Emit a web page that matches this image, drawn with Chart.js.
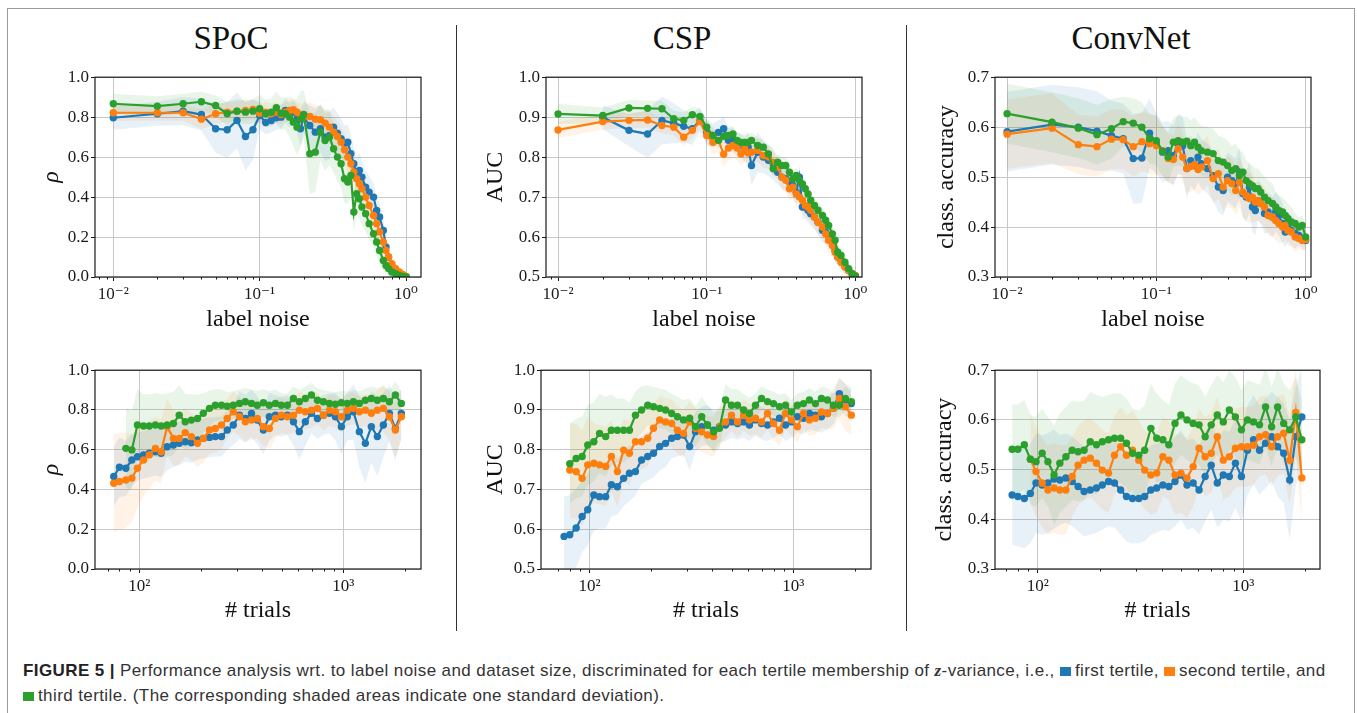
<!DOCTYPE html>
<html><head><meta charset="utf-8">
<script src="https://cdn.jsdelivr.net/npm/chart.js@4.4.1/dist/chart.umd.min.js"></script>
<style>
html,body{margin:0;padding:0;background:#fff;}
body{width:1357px;height:713px;position:relative;overflow:hidden;font-family:"Liberation Serif",serif;}
.frame{position:absolute;left:7px;top:8px;width:1348px;height:800px;border:1.5px solid #9a9a9a;box-sizing:border-box;}
.title{position:absolute;top:22px;font-size:33px;line-height:1;color:#111;transform:translateX(-50%);white-space:nowrap;}
.vline{position:absolute;width:1.4px;background:#333;top:25px;height:606px;}
.box{position:absolute;}
.caption{position:absolute;left:23px;font-family:"Liberation Sans",Arial,sans-serif;font-size:17px;letter-spacing:0.4px;line-height:1;color:#333;white-space:nowrap;}
.caption b{color:#222;}
.sq{display:inline-block;width:11px;height:9px;margin-right:4px;vertical-align:baseline;}
.z{font-family:"Liberation Serif",serif;font-weight:bold;font-style:italic;}
</style></head><body>
<div class="frame"></div>
<div class="title" style="left:231px">SPoC</div>
<div class="title" style="left:682px">CSP</div>
<div class="title" style="left:1131px">ConvNet</div>
<div class="vline" style="left:456px"></div>
<div class="vline" style="left:906px"></div>
<div id="pA" class="box"></div><div id="pB" class="box"></div><div id="pC" class="box"></div>
<div id="pD" class="box"></div><div id="pE" class="box"></div><div id="pF" class="box"></div>
<div class="caption" style="top:661.5px"><b>FIGURE 5 |</b> Performance analysis wrt. to label noise and dataset size, discriminated for each tertile membership of <span class="z">z</span>-variance, i.e., <span class="sq" style="background:#1f77b4"></span>first tertile, <span class="sq" style="background:#ff7f0e"></span>second tertile, and</div>
<div class="caption" style="top:687.3px"><span class="sq" style="background:#2ca02c"></span>third tertile. (The corresponding shaded areas indicate one standard deviation).</div>
<script>
// ---------- x values ----------
const noiseLevels = [0.01,0.02,0.03,0.04,0.05,0.06,0.07,0.08,0.09,0.10,0.11,0.12,0.13,0.14,0.15,0.16,0.17,0.18,0.19,0.20,0.22,0.24,0.26,0.28,0.30,0.32,0.34,0.36,0.38,0.40,0.42,0.44,0.46,0.48,0.50,0.53,0.56,0.60,0.63,0.66,0.70,0.73,0.76,0.80,0.85,0.90,0.95,1.00];
const trialCounts = [75,80,86,92,98,105,112,120,128,137,147,157,168,180,193,206,221,236,253,270,289,310,331,355,379,406,434,465,497,532,570,609,652,698,747,799,855,915,979,1047,1121,1199,1283,1373,1469,1572,1682,1800,1926];

// ---------- tick labels ----------
const noiseTickValues = [0.01, 0.1, 1];
const noiseTickLabels = ['10⁻²', '10⁻¹', '10⁰'];
const noiseMinorTicks = [0.008,0.009,0.02,0.03,0.04,0.05,0.06,0.07,0.08,0.09,0.2,0.3,0.4,0.5,0.6,0.7,0.8,0.9];
const trialTickValues = [100, 1000];
const trialTickLabels = ['10²', '10³'];
const trialMinorTicks = [70,80,90,200,300,400,500,600,700,800,900,2000];

// ---------- SPoC vs label noise (rho) ----------
const spocNoiseFirst  = [0.797,0.817,0.83,0.813,0.742,0.737,0.783,0.703,0.737,0.808, 0.773,0.783,0.797,0.80,0.833,0.808,0.825,0.79,0.742,0.80, 0.758,0.725,0.742,0.70,0.708,0.75,0.72,0.692,0.667,0.675,0.617,0.567,0.508,0.533,0.50, 0.45,0.425,0.40,0.333,0.30,0.233,0.15,0.10,0.058,0.033,0.017,0.008,0.003];
const spocNoiseSecond = [0.822,0.822,0.822,0.79,0.817,0.825,0.83,0.833,0.838,0.82, 0.825,0.817,0.825,0.813,0.825,0.833,0.837,0.825,0.808,0.80, 0.803,0.79,0.787,0.77,0.75,0.725,0.703,0.675,0.637,0.60,0.567,0.525,0.492,0.467,0.442, 0.40,0.358,0.308,0.267,0.225,0.175,0.133,0.10,0.067,0.042,0.025,0.013,0.003];
const spocNoiseThird  = [0.867,0.855,0.867,0.877,0.858,0.817,0.83,0.825,0.83,0.842, 0.817,0.825,0.847,0.82,0.817,0.80,0.775,0.75,0.79,0.813, 0.617,0.625,0.725,0.683,0.70,0.642,0.60,0.567,0.492,0.475,0.508,0.325,0.417,0.392,0.35, 0.317,0.267,0.217,0.175,0.133,0.083,0.058,0.042,0.025,0.017,0.008,0.003,0.0];
const spocNoiseFirstSd  = [0.06,0.06,0.07,0.08,0.12,0.14,0.14,0.17,0.15,0.07, 0.06,0.06,0.06,0.06,0.06,0.06,0.06,0.07,0.09,0.08, 0.10,0.12,0.12,0.12,0.12,0.10,0.10,0.10,0.09,0.09,0.09,0.09,0.09,0.09,0.08, 0.08,0.08,0.07,0.07,0.07,0.06,0.05,0.04,0.03,0.02,0.02,0.01,0.01];
const spocNoiseSecondSd = [0.04,0.04,0.04,0.05,0.05,0.05,0.05,0.05,0.05,0.05, 0.05,0.05,0.05,0.05,0.05,0.05,0.05,0.05,0.06,0.06, 0.07,0.07,0.07,0.07,0.08,0.08,0.08,0.08,0.08,0.08,0.08,0.08,0.08,0.08,0.07, 0.07,0.07,0.06,0.06,0.06,0.05,0.05,0.04,0.03,0.02,0.02,0.01,0.01];
const spocNoiseThirdSd  = [0.05,0.05,0.05,0.05,0.05,0.06,0.06,0.06,0.06,0.07, 0.07,0.07,0.08,0.08,0.08,0.10,0.12,0.14,0.14,0.12, 0.20,0.20,0.14,0.15,0.14,0.12,0.12,0.12,0.12,0.11,0.10,0.10,0.10,0.10,0.09, 0.09,0.08,0.07,0.07,0.06,0.05,0.04,0.04,0.03,0.02,0.02,0.01,0.01];

// ---------- CSP vs label noise (AUC) ----------
const cspNoiseFirst  = [null,0.90,0.867,0.858,0.892,0.885,0.877,0.871,0.892,0.862, 0.854,0.862,0.871,0.842,0.843,0.833,0.829,0.817,0.825,0.779, 0.812,0.80,0.792,0.783,0.762,0.75,0.746,0.737,0.729,0.712,0.75,0.675,0.675,0.667,0.658, 0.65,0.637,0.617,0.612,0.604,0.592,0.567,0.55,0.542,0.529,0.517,0.508,0.502];
const cspNoiseSecond = [0.868,0.889,0.892,0.893,0.879,0.875,0.85,0.867,0.889,0.854, 0.837,0.842,0.807,0.823,0.829,0.823,0.808,0.821,0.81,0.812, 0.817,0.804,0.80,0.787,0.775,0.75,0.742,0.721,0.725,0.708,0.70,0.692,0.679,0.675,0.667, 0.65,0.637,0.625,0.608,0.592,0.579,0.562,0.55,0.537,0.525,0.517,0.508,0.504];
const cspNoiseThird  = [0.908,0.904,0.923,0.922,0.921,0.896,0.892,0.906,0.902,0.875, 0.854,0.842,0.852,0.854,0.858,0.842,0.837,0.837,0.837,0.842, 0.829,0.825,0.808,0.771,0.787,0.779,0.779,0.762,0.746,0.754,0.742,0.733,0.721,0.708,0.692, 0.679,0.667,0.654,0.642,0.629,0.608,0.592,0.562,0.554,0.537,0.521,0.508,0.502];
const cspNoiseFirstSd  = [0.03,0.03,0.04,0.06,0.06,0.05,0.04,0.04,0.03,0.03, 0.03,0.03,0.03,0.03,0.03,0.03,0.03,0.03,0.04,0.05, 0.05,0.04,0.04,0.04,0.03,0.03,0.03,0.03,0.03,0.03,0.03,0.03,0.03,0.03,0.03, 0.03,0.03,0.03,0.03,0.03,0.03,0.03,0.02,0.02,0.02,0.02,0.01,0.01];
const cspNoiseSecondSd = [0.02,0.02,0.02,0.02,0.02,0.02,0.02,0.02,0.02,0.02, 0.03,0.03,0.03,0.03,0.03,0.03,0.03,0.03,0.03,0.03, 0.03,0.03,0.03,0.03,0.03,0.03,0.03,0.03,0.03,0.03,0.03,0.03,0.03,0.03,0.03, 0.03,0.03,0.03,0.03,0.03,0.03,0.02,0.02,0.02,0.02,0.02,0.01,0.01];
const cspNoiseThirdSd  = [0.025,0.02,0.02,0.02,0.02,0.02,0.02,0.02,0.02,0.02, 0.02,0.02,0.02,0.02,0.02,0.02,0.02,0.02,0.02,0.02, 0.02,0.02,0.02,0.02,0.02,0.02,0.02,0.02,0.02,0.02,0.02,0.02,0.02,0.02,0.02, 0.02,0.02,0.02,0.02,0.02,0.02,0.02,0.02,0.02,0.02,0.01,0.01,0.01];

// ---------- ConvNet vs label noise (class. accuracy) ----------
const convNoiseFirst  = [0.591,0.605,0.60,0.592,0.583,0.577,0.537,0.538,0.588,0.568, 0.55,0.553,0.543,0.567,0.563,0.517,0.533,0.523,0.54,0.527, 0.517,0.503,0.48,0.473,0.50,0.493,0.487,0.51,0.467,0.46,0.48,0.44,0.433,0.453,0.447, 0.427,0.43,0.42,0.43,0.423,0.407,0.39,0.40,0.393,0.387,0.383,0.377,0.373];
const convNoiseSecond = [0.586,0.598,0.565,0.561,0.576,0.575,0.561,0.571,0.567,0.563, 0.553,0.537,0.535,0.557,0.54,0.517,0.521,0.525,0.515,0.52, 0.533,0.497,0.507,0.48,0.493,0.487,0.473,0.49,0.47,0.463,0.457,0.46,0.45,0.453,0.447, 0.44,0.423,0.42,0.413,0.407,0.40,0.403,0.393,0.39,0.38,0.377,0.373,0.375];
const convNoiseThird  = [0.627,0.61,0.598,0.585,0.597,0.611,0.608,0.60,0.577,0.573, 0.552,0.54,0.57,0.573,0.57,0.572,0.563,0.57,0.56,0.553, 0.55,0.547,0.533,0.53,0.523,0.513,0.517,0.503,0.51,0.493,0.487,0.483,0.477,0.477,0.47, 0.46,0.453,0.447,0.44,0.433,0.43,0.423,0.417,0.41,0.407,0.40,0.403,0.38];
const convNoiseFirstSd  = [0.08,0.08,0.08,0.08,0.07,0.07,0.09,0.09,0.07,0.06, 0.06,0.06,0.06,0.06,0.06,0.06,0.05,0.05,0.05,0.05, 0.05,0.05,0.05,0.05,0.05,0.05,0.05,0.05,0.05,0.05,0.05,0.05,0.05,0.04,0.04, 0.04,0.04,0.04,0.04,0.04,0.04,0.03,0.03,0.03,0.03,0.02,0.02,0.02];
const convNoiseSecondSd = [0.07,0.07,0.06,0.06,0.06,0.06,0.06,0.06,0.06,0.06, 0.05,0.05,0.05,0.05,0.05,0.05,0.05,0.05,0.05,0.05, 0.05,0.05,0.05,0.05,0.05,0.05,0.05,0.05,0.05,0.05,0.05,0.05,0.04,0.04,0.04, 0.04,0.04,0.04,0.04,0.04,0.03,0.03,0.03,0.03,0.03,0.02,0.02,0.02];
const convNoiseThirdSd  = [0.06,0.06,0.06,0.06,0.06,0.05,0.05,0.05,0.05,0.05, 0.05,0.05,0.05,0.05,0.05,0.05,0.05,0.05,0.05,0.05, 0.05,0.05,0.05,0.05,0.05,0.05,0.05,0.05,0.04,0.04,0.04,0.04,0.04,0.04,0.04, 0.04,0.04,0.04,0.03,0.03,0.03,0.03,0.03,0.03,0.02,0.02,0.02,0.02];

// ---------- SPoC vs # trials (rho) ----------
const spocTrialsFirst  = [0.465,0.512,0.507,0.548,0.565, 0.574,0.582,0.59,0.582,0.615, 0.624,0.632,0.64,0.635,0.649, 0.657,0.662,0.666,0.666,0.699, 0.724,0.774,0.757,0.783,0.749, 0.699,0.766,0.774,0.766,0.774, 0.741,0.691,0.741,0.783,0.757, 0.774,0.783,0.766,0.716,0.766, 0.791,0.691,0.632,0.716,0.666, 0.724,0.783,0.707,0.783];
const spocTrialsSecond = [0.431,0.44,0.448,0.457,0.507, 0.548,0.574,0.607,0.59,0.716, 0.657,0.657,0.686,0.666,0.632, 0.657,0.699,0.707,0.724,0.757, 0.791,0.766,0.741,0.749,0.757, 0.716,0.707,0.757,0.774,0.766, 0.774,0.799,0.791,0.799,0.808, 0.774,0.799,0.791,0.766,0.799, 0.808,0.791,0.799,0.783,0.799, 0.808,0.766,0.699,0.766];
const spocTrialsThird  = [null,null,0.607,0.599,0.724, 0.719,0.719,0.724,0.719,0.724, 0.732,0.774,0.741,0.749,0.757, 0.783,0.808,0.824,0.824,0.819, 0.824,0.833,0.841,0.833,0.824, 0.836,0.824,0.833,0.824,0.824, 0.858,0.841,0.858,0.875,0.849, 0.841,0.833,0.829,0.836,0.833, 0.841,0.833,0.849,0.858,0.849, 0.858,0.841,0.875,0.833];
const spocTrialsFirstSd  = [0.15,0.15,0.14,0.13,0.12, 0.12,0.12,0.12,0.12,0.12, 0.11,0.11,0.10,0.10,0.10, 0.10,0.10,0.10,0.10,0.10, 0.10,0.12,0.12,0.12,0.12, 0.12,0.12,0.10,0.10,0.10, 0.12,0.14,0.12,0.10,0.10, 0.10,0.10,0.12,0.14,0.12, 0.14,0.18,0.20,0.18,0.20, 0.16,0.14,0.16,0.12];
const spocTrialsSecondSd = [0.25,0.24,0.24,0.22,0.20, 0.18,0.17,0.16,0.16,0.14, 0.14,0.13,0.12,0.12,0.12, 0.12,0.12,0.12,0.12,0.10, 0.10,0.10,0.10,0.10,0.10, 0.10,0.10,0.10,0.09,0.09, 0.09,0.09,0.09,0.09,0.08, 0.08,0.08,0.08,0.08,0.08, 0.08,0.08,0.08,0.09,0.10, 0.12,0.12,0.14,0.12];
const spocTrialsThirdSd  = [0.20,0.20,0.20,0.20,0.18, 0.16,0.16,0.16,0.16,0.16, 0.16,0.15,0.14,0.13,0.12, 0.10,0.09,0.08,0.08,0.07, 0.07,0.07,0.07,0.07,0.07, 0.07,0.07,0.07,0.06,0.06, 0.06,0.06,0.06,0.06,0.06, 0.06,0.06,0.06,0.06,0.06, 0.06,0.06,0.06,0.06,0.06, 0.06,0.06,0.07,0.06];

// ---------- CSP vs # trials (AUC) ----------
const cspTrialsFirst  = [0.582,0.586,0.603,0.632,0.649, 0.686,0.682,0.682,0.712,0.707, 0.728,0.741,0.745,0.774,0.783, 0.791,0.808,0.816,0.829,0.833, 0.837,0.808,0.845,0.858,0.862, 0.849,0.858,0.862,0.87,0.866, 0.87,0.862,0.875,0.866,0.862, 0.87,0.879,0.862,0.87,0.883, 0.879,0.891,0.887,0.883,0.891, 0.904,0.941,0.925,0.916];
const cspTrialsSecond = [null,0.749,0.745,0.728,0.762, 0.766,0.762,0.758,0.783,0.745, 0.799,0.791,0.82,0.82,0.829, 0.854,0.875,0.87,0.866,0.849, 0.841,0.87,0.854,0.845,0.837, 0.833,0.858,0.87,0.887,0.87, 0.887,0.875,0.879,0.87,0.891, 0.866,0.849,0.891,0.875,0.858, 0.891,0.875,0.879,0.895,0.891, 0.904,0.929,0.908,0.887];
const cspTrialsThird  = [null,0.765,0.778,0.783,0.812, 0.82,0.841,0.833,0.849,0.849, 0.849,0.849,0.887,0.90,0.912, 0.908,0.904,0.90,0.891,0.883, 0.875,0.879,0.858,0.883,0.862, 0.845,0.854,0.925,0.912,0.912, 0.90,0.891,0.912,0.929,0.921, 0.916,0.908,0.912,0.895,0.912, 0.916,0.925,0.916,0.929,0.925, 0.912,0.912,0.929,0.921];
const cspTrialsFirstSd  = [0.10,0.10,0.10,0.09,0.09, 0.09,0.08,0.08,0.08,0.07, 0.07,0.07,0.06,0.06,0.06, 0.06,0.06,0.06,0.05,0.05, 0.05,0.06,0.05,0.05,0.05, 0.05,0.04,0.04,0.04,0.04, 0.04,0.04,0.04,0.04,0.04, 0.04,0.04,0.04,0.04,0.04, 0.04,0.04,0.04,0.04,0.04, 0.04,0.04,0.04,0.04];
const cspTrialsSecondSd = [0.10,0.12,0.12,0.12,0.12, 0.10,0.10,0.10,0.09,0.09, 0.08,0.08,0.07,0.07,0.07, 0.06,0.06,0.06,0.06,0.06, 0.06,0.05,0.05,0.05,0.05, 0.05,0.05,0.04,0.04,0.04, 0.04,0.04,0.04,0.04,0.04, 0.04,0.04,0.04,0.04,0.04, 0.04,0.04,0.04,0.04,0.04, 0.05,0.05,0.06,0.05];
const cspTrialsThirdSd  = [0.10,0.10,0.10,0.10,0.10, 0.10,0.10,0.10,0.09,0.08, 0.08,0.07,0.06,0.06,0.05, 0.05,0.05,0.05,0.05,0.05, 0.05,0.05,0.05,0.05,0.05, 0.05,0.05,0.04,0.04,0.04, 0.04,0.04,0.03,0.03,0.03, 0.03,0.03,0.03,0.03,0.03, 0.03,0.03,0.03,0.03,0.03, 0.03,0.03,0.03,0.03];

// ---------- ConvNet vs # trials (class. accuracy) ----------
const convTrialsFirst  = [0.449,0.446,0.442,0.452,0.473, 0.469,0.473,0.481,0.479,0.483, 0.476,0.466,0.456,0.459,0.463, 0.469,0.476,0.473,0.459,0.446, 0.442,0.442,0.446,0.459,0.463, 0.469,0.466,0.476,0.489,0.469, 0.473,0.459,0.486,0.509,0.473, 0.489,0.486,0.513,0.486,0.539, 0.56,0.539,0.553,0.566,0.546, 0.533,0.479,0.566,0.606];
const convTrialsSecond = [null,null,null,0.521,0.496, 0.473,0.459,0.463,0.459,0.459, 0.486,0.509,0.519,0.523,0.513, 0.499,0.493,0.529,0.546,0.529, 0.539,0.519,0.499,0.489,0.493, 0.526,0.519,0.489,0.493,0.483, 0.506,0.543,0.526,0.533,0.566, 0.519,0.526,0.543,0.546,0.546, 0.549,0.566,0.57,0.546,0.566, 0.573,0.519,0.615,0.483];
const convTrialsThird  = [0.541,0.541,0.55,0.521,0.516, 0.533,0.516,0.489,0.513,0.526, 0.539,0.536,0.539,0.556,0.55, 0.556,0.56,0.563,0.563,0.553, 0.533,0.529,0.539,0.583,0.563, 0.56,0.55,0.593,0.61,0.60, 0.593,0.59,0.566,0.59,0.61, 0.596,0.62,0.606,0.58,0.60, 0.596,0.59,0.626,0.586,0.626, 0.593,0.58,0.606,0.56];
const convTrialsFirstSd  = [0.10,0.10,0.10,0.10,0.10, 0.10,0.10,0.10,0.09,0.09, 0.09,0.09,0.09,0.09,0.09, 0.09,0.09,0.09,0.09,0.09, 0.09,0.09,0.09,0.09,0.09, 0.09,0.09,0.09,0.09,0.09, 0.09,0.09,0.09,0.09,0.09, 0.09,0.09,0.09,0.09,0.09, 0.09,0.09,0.09,0.09,0.10, 0.10,0.12,0.10,0.10];
const convTrialsSecondSd = [0.09,0.09,0.09,0.09,0.09, 0.09,0.09,0.09,0.09,0.09, 0.08,0.08,0.08,0.08,0.08, 0.08,0.08,0.08,0.08,0.08, 0.08,0.08,0.08,0.08,0.08, 0.08,0.08,0.08,0.08,0.08, 0.08,0.08,0.08,0.08,0.08, 0.08,0.08,0.08,0.08,0.08, 0.08,0.08,0.08,0.08,0.08, 0.08,0.09,0.09,0.09];
const convTrialsThirdSd  = [0.09,0.09,0.09,0.09,0.09, 0.09,0.09,0.10,0.10,0.10, 0.10,0.10,0.10,0.10,0.10, 0.09,0.09,0.09,0.09,0.09, 0.09,0.09,0.09,0.09,0.09, 0.08,0.08,0.08,0.08,0.08, 0.08,0.08,0.08,0.08,0.08, 0.08,0.08,0.08,0.08,0.08, 0.08,0.08,0.08,0.08,0.08, 0.08,0.08,0.08,0.08];

// ---------- styling / layout ----------
const COLORS = ['#1f77b4', '#ff7f0e', '#2ca02c'];
const FILLS = ['rgba(31,119,180,0.10)', 'rgba(255,127,14,0.10)', 'rgba(44,160,44,0.10)'];
const GRID = '#c8c8c8';
const SERIF = '"Liberation Serif", "DejaVu Serif", serif';
const GUT_L = 70, PAD_T = 12, PAD_R = 14, GUT_B = 60;

const framePlugin = {
  id: 'frame',
  afterDatasetsDraw(chart) {
    const {ctx, chartArea: a} = chart;
    ctx.save();
    ctx.strokeStyle = '#1a1a1a';
    ctx.lineWidth = 1.2;
    ctx.strokeRect(a.left, a.top, a.right - a.left, a.bottom - a.top);
    ctx.restore();
  }
};
const minorTickPlugin = {
  id: 'minorTicks',
  afterDraw(chart, args, opts) {
    const sc = chart.scales.x, a = chart.chartArea, ctx = chart.ctx;
    ctx.save();
    ctx.strokeStyle = '#1a1a1a';
    ctx.lineWidth = 1;
    (opts.values || []).forEach(v => {
      if (v < sc.min || v > sc.max) return;
      const px = Math.round(sc.getPixelForValue(v)) + 0.5;
      ctx.beginPath(); ctx.moveTo(px, a.bottom); ctx.lineTo(px, a.bottom + 2.5); ctx.stroke();
    });
    ctx.restore();
  }
};

function buildDatasets(xs, means, sds) {
  const ds = [];
  means.forEach((m, s) => {
    ds.push({data: xs.map((x, i) => ({x, y: m[i] == null ? null : m[i] - sds[s][i]})),
             borderWidth: 0, pointRadius: 0, fill: false, order: 10});
    ds.push({data: xs.map((x, i) => ({x, y: m[i] == null ? null : m[i] + sds[s][i]})),
             borderWidth: 0, pointRadius: 0, fill: '-1', backgroundColor: FILLS[s], order: 10});
  });
  means.forEach((m, s) => {
    ds.push({data: xs.map((x, i) => ({x, y: m[i]})),
             borderColor: COLORS[s], backgroundColor: COLORS[s], pointBackgroundColor: COLORS[s],
             borderWidth: 2.2, pointRadius: 3.7, pointBorderWidth: 0, fill: false, order: 3 - s});
  });
  return ds;
}

function makeChart(id, g, xs, means, sds, yMin, yMax, yStep, yTitle, yItalic, yTitlePad, xTitle, xTitlePad, majors, majorLabels, minors) {
  const box = document.getElementById(id);
  const W = (g.R - g.L) + GUT_L + PAD_R, H = (g.B - g.T) + PAD_T + GUT_B;
  box.style.left = (g.L - GUT_L) + 'px';
  box.style.top = (g.T - PAD_T) + 'px';
  const cv = document.createElement('canvas');
  cv.width = W; cv.height = H; cv.style.width = W + 'px'; cv.style.height = H + 'px';
  box.appendChild(cv);
  new Chart(cv, {
    type: 'line',
    data: {datasets: buildDatasets(xs, means, sds)},
    plugins: [framePlugin, minorTickPlugin],
    options: {
      responsive: false, animation: false, events: [], devicePixelRatio: 1,
      layout: {padding: {left: 0, top: PAD_T, right: PAD_R, bottom: 0}},
      plugins: {legend: {display: false}, tooltip: {enabled: false},
                filler: {drawTime: 'beforeDatasetsDraw', propagate: false},
                minorTicks: {values: minors}},
      scales: {
        x: {
          type: 'logarithmic', min: g.xMin, max: g.xMax,
          afterFit: s => { s.height = GUT_B; },
          afterBuildTicks: s => { s.ticks = majors.map(v => ({value: v, major: true})); },
          ticks: {autoSkip: false, maxRotation: 0, minRotation: 0, padding: 3, color: '#1a1a1a',
                  font: {family: SERIF, size: 17},
                  callback: v => { const k = majors.findIndex(m => Math.abs(m - v) / m < 1e-6); return k >= 0 ? majorLabels[k] : ''; }},
          grid: {color: GRID, lineWidth: 1, drawTicks: true, tickLength: 4, tickColor: '#1a1a1a', tickWidth: 1},
          border: {display: false},
          title: {display: true, text: xTitle, color: '#111', font: {family: SERIF, size: 24}, padding: {top: 0, bottom: xTitlePad}}
        },
        y: {
          type: 'linear', min: yMin, max: yMax,
          afterFit: s => { s.width = GUT_L; },
          ticks: {stepSize: yStep, padding: 2, color: '#1a1a1a', font: {family: SERIF, size: 17},
                  callback: v => Number(v).toFixed(1)},
          grid: {color: GRID, lineWidth: 1, drawTicks: true, tickLength: 4, tickColor: '#1a1a1a', tickWidth: 1},
          border: {display: false},
          title: {display: true, text: yTitle, color: '#111',
                  font: {family: SERIF, size: 24, style: yItalic ? 'italic' : 'normal'},
                  padding: {top: yTitlePad, bottom: 0}}
        }
      }
    }
  });
}

const geo = {
  A: {L: 95,  T: 77,  R: 421,  B: 277, xMin: 0.0075, xMax: 1.266},
  B: {L: 546, T: 77,  R: 862,  B: 277, xMin: 0.0083, xMax: 1.107},
  C: {L: 995, T: 77,  R: 1311, B: 277, xMin: 0.0083, xMax: 1.086},
  D: {L: 95,  T: 370, R: 421,  B: 569, xMin: 60.7,   xMax: 2404},
  E: {L: 541, T: 370, R: 871,  B: 569, xMin: 57.8,   xMax: 2404},
  F: {L: 995, T: 370, R: 1320, B: 569, xMin: 61.9,   xMax: 2361}
};

makeChart('pA', geo.A, noiseLevels, [spocNoiseFirst, spocNoiseSecond, spocNoiseThird], [spocNoiseFirstSd, spocNoiseSecondSd, spocNoiseThirdSd], 0, 1, 0.2, 'ρ', true, 12.6, 'label noise', 3, noiseTickValues, noiseTickLabels, noiseMinorTicks);
makeChart('pB', geo.B, noiseLevels, [cspNoiseFirst, cspNoiseSecond, cspNoiseThird], [cspNoiseFirstSd, cspNoiseSecondSd, cspNoiseThirdSd], 0.5, 1, 0.1, 'AUC', false, 5.6, 'label noise', 3, noiseTickValues, noiseTickLabels, noiseMinorTicks);
makeChart('pC', geo.C, noiseLevels, [convNoiseFirst, convNoiseSecond, convNoiseThird], [convNoiseFirstSd, convNoiseSecondSd, convNoiseThirdSd], 0.3, 0.7, 0.1, 'class. accuracy', false, 7.6, 'label noise', 3, noiseTickValues, noiseTickLabels, noiseMinorTicks);
makeChart('pD', geo.D, trialCounts, [spocTrialsFirst, spocTrialsSecond, spocTrialsThird], [spocTrialsFirstSd, spocTrialsSecondSd, spocTrialsThirdSd], 0, 1, 0.2, 'ρ', true, 12.6, '# trials', 3.5, trialTickValues, trialTickLabels, trialMinorTicks);
makeChart('pE', geo.E, trialCounts, [cspTrialsFirst, cspTrialsSecond, cspTrialsThird], [cspTrialsFirstSd, cspTrialsSecondSd, cspTrialsThirdSd], 0.5, 1, 0.1, 'AUC', false, 10.6, '# trials', 3.5, trialTickValues, trialTickLabels, trialMinorTicks);
makeChart('pF', geo.F, trialCounts, [convTrialsFirst, convTrialsSecond, convTrialsThird], [convTrialsFirstSd, convTrialsSecondSd, convTrialsThirdSd], 0.3, 0.7, 0.1, 'class. accuracy', false, 5.6, '# trials', 3.5, trialTickValues, trialTickLabels, trialMinorTicks);
</script>
</body></html>
